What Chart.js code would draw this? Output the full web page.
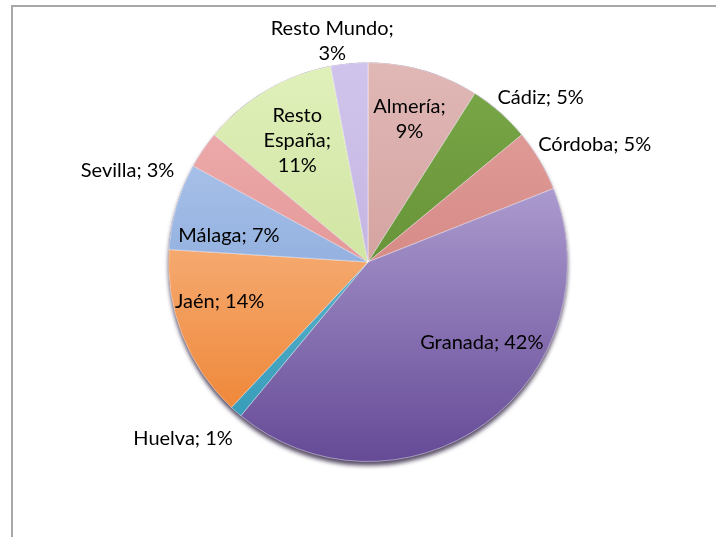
<!DOCTYPE html>
<html>
<head>
<meta charset="utf-8">
<script src="https://cdn.jsdelivr.net/npm/chart.js@4/dist/chart.umd.min.js"></script>
<style>
  html, body { margin: 0; padding: 0; background: #fff; }
  #wrap { position: relative; width: 716px; height: 537px; overflow: hidden; }
  #frame { position: absolute; left: 11px; top: 5px; width: 800px; height: 600px;
           border-top: 2px solid #a8a8a8; border-left: 2px solid #a8a8a8; }
  #pie { position: absolute; left: 0; top: 0; }
</style>
</head>
<body>
<div id="wrap">
  <div id="frame"></div>
  <canvas id="pie" width="716" height="537"></canvas>
</div>
<script>
// Procedencia (%)
const provincias = ["Almería", "Cádiz", "Córdoba", "Granada", "Huelva", "Jaén", "Málaga", "Sevilla", "Resto España", "Resto Mundo"];
const porcentajes = [9, 5, 5, 42, 1, 14, 7, 3, 11, 3];

// colores del degradado (arriba -> abajo)
const colorArriba = ["#e0b8b6", "#7aa847", "#e4a29e", "#cbbfe8", "#7fcbe0", "#fcd0ae", "#b8cff0", "#f0b2b2", "#e0f0ba", "#d0c4ec"];
const colorAbajo  = ["#c98f8d", "#577f2b", "#c97470", "#654a96", "#2f97b5", "#ed7d28", "#7193cf", "#d98080", "#c2da8c", "#b9a7d6"];

// colocación de cada etiqueta: fracción del radio y giro en grados
const etiquetaRadio = [0.745, 1.195, 1.28, 0.70, 1.28, 0.77, 0.71, 1.29, 0.705, 1.12];
const etiquetaGiro  = [0, 5, 3.2, -18.6, 5, 6.5, -5.3, -13.3, 0.4, -3.8];
// 0 = una línea, 1 = salto tras ";", 2 = palabra por línea
const etiquetaCorte = [1, 0, 0, 0, 0, 0, 0, 0, 2, 1];

const fuente = '20px Lato';

function lineasEtiqueta(i) {
  const texto = provincias[i] + '; ' + porcentajes[i] + '%';
  if (etiquetaCorte[i] === 1) return [provincias[i] + ';', porcentajes[i] + '%'];
  if (etiquetaCorte[i] === 2) return texto.split(' ');
  return [texto];
}

// sombra bajo el círculo
const sombraPie = {
  id: 'sombraPie',
  beforeDatasetsDraw(chart) {
    const arc = chart.getDatasetMeta(0).data[0];
    if (!arc) return;
    const ctx = chart.ctx;
    ctx.save();
    ctx.shadowColor = 'rgba(30, 15, 50, 0.75)';
    ctx.shadowBlur = 4;
    ctx.shadowOffsetY = 4;
    ctx.fillStyle = '#4f3780';
    ctx.beginPath();
    ctx.arc(arc.x, arc.y, arc.outerRadius, 0, Math.PI * 2);
    ctx.fill();
    ctx.restore();
  }
};

// etiquetas "nombre; valor%"
const etiquetas = {
  id: 'etiquetas',
  afterDatasetsDraw(chart) {
    const ctx = chart.ctx;
    const arcs = chart.getDatasetMeta(0).data;
    ctx.save();
    ctx.font = fuente;
    ctx.fillStyle = '#000';
    ctx.textAlign = 'center';
    ctx.textBaseline = 'middle';
    arcs.forEach((arc, i) => {
      const ang = (arc.startAngle + arc.endAngle) / 2 + etiquetaGiro[i] * Math.PI / 180;
      const r = arc.outerRadius * etiquetaRadio[i];
      const x = arc.x + Math.cos(ang) * r;
      const y = arc.y + Math.sin(ang) * r;
      const lineas = lineasEtiqueta(i);
      const alto = 25;
      lineas.forEach((l, k) => {
        ctx.fillText(l, x, y + (k - (lineas.length - 1) / 2) * alto);
      });
    });
    ctx.restore();
  }
};

function degradado(context) {
  const i = context.dataIndex;
  const area = context.chart.chartArea;
  if (!area) return colorArriba[i];
  const g = context.chart.ctx.createLinearGradient(0, area.top, 0, area.bottom);
  g.addColorStop(0, colorArriba[i]);
  g.addColorStop(1, colorAbajo[i]);
  return g;
}

new Chart(document.getElementById('pie').getContext('2d'), {
  type: 'pie',
  data: {
    labels: provincias,
    datasets: [{
      data: porcentajes,
      backgroundColor: degradado,
      borderColor: 'rgba(255, 255, 255, 0.45)',
      borderWidth: 1
    }]
  },
  options: {
    responsive: false,
    animation: false,
    layout: { padding: { left: 168, right: 148, top: 62, bottom: 75 } },
    plugins: {
      legend: { display: false },
      tooltip: { enabled: false }
    }
  },
  plugins: [sombraPie, etiquetas]
});
</script>
</body>
</html>
